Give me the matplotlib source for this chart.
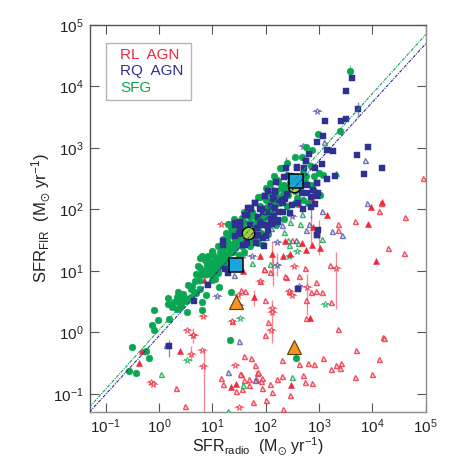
import numpy as np
import matplotlib
matplotlib.use("Agg")
import matplotlib.pyplot as plt
from matplotlib.patches import Rectangle

plt.rcParams["font.family"] = ["Liberation Sans", "DejaVu Sans"]
plt.rcParams["mathtext.fontset"] = "custom"
plt.rcParams["mathtext.rm"] = "Liberation Sans"
plt.rcParams["mathtext.it"] = "Liberation Sans"
plt.rcParams["mathtext.fallback"] = "stixsans"

# all values are log10(SFR_radio), log10(SFR_FIR)
rl_open_tri = np.array([
    [3.669, 1.814], [3.363, 1.765], [3.35, 1.657], [4.30, 1.375], [4.588, 1.289], [3.213, 1.089],
    [1.969, 1.035], [2.375, 0.905], [2.625, 0.91], [2.944, 0.824], [1.894, 0.834], [2.75, 0.526],
    [1.988, 0.531], [3.225, 0.488], [2.944, 0.667], [2.85, 0.65], [3.363, 0.055], [1.994, -0.048],
    [4.2, -0.08], [4.225, -0.09], [3.694, -0.28], [1.588, -0.389], [1.719, -0.416], [2.30, -0.454],
    [3.08, -0.41], [4.12, -0.44], [2.62, -0.513], [2.794, -0.502], [2.9, -0.513], [1.80, -0.524],
    [3.225, -0.60], [3.325, -0.53], [3.419, -0.497], [3.40, -0.583], [3.675, -0.73], [3.988, -0.675],
    [2.313, -0.708], [2.206, -0.762], [2.706, -0.70], [2.088, -0.843], [2.738, -0.81], [2.869, -0.827],
    [1.925, -0.903], [2.119, -0.968], [2.463, -1.027], [2.013, -1.098], [1.763, -1.13], [2.331, -1.244],
    [1.844, -0.66], [1.694, -0.767], [1.55, -0.92], [1.925, -0.74], [1.813, -0.767], [1.538, -0.67],
    [4.944, 2.505], [4.163, 2.099], [4.119, 1.98], [4.613, 1.877],
    [0.325, -0.908], [0.488, -1.20], [1.163, -0.74], [1.206, -0.838], [1.438, -0.962], [1.525, -0.67],
    [1.375, 0.18], [1.85, -0.649], [1.587, -0.773], [1.906, -0.784], [1.681, -0.86], [2.037, 0.174],
    [1.968, 1.03], [2.081, 0.975], [2.362, 0.91], [2.443, 0.677], [1.531, 0.693], [1.612, 0.667],
    [2.756, 0.234], [3.05, 0.66], [2.74, 1.05], [2.5, 1.5],
])
rl_star = np.array([
    [0.519, 0.044], [0.644, -0.048], [0.594, -0.351], [-0.156, -0.805], [-0.106, -0.838], [0.831, 0.26],
    [-0.306, -0.313], [0.8, -0.291], [0.831, -0.54], [1.163, 1.765], [1.506, -1.212], [1.431, -0.524],
    [0.631, -0.048], [1.375, 0.179], [2.118, 0.331], [2.1, 0.044], [1.487, 0.612], [3.313, 1.04],
    [2.525, 1.078], [2.444, 0.677], [2.5, 0.612], [2.769, 0.73], [2.125, 0.4], [1.9, 0.83],
])
rl_filled = np.array([
    [-0.369, -0.497], [0.4, -0.307], [-0.31, -0.31], [1.437, -0.833], [1.356, -0.887], [2.481, -0.86],
    [1.581, 0.991], [1.893, 1.235], [2.112, 1.273], [2.331, 1.246], [1.787, 0.575], [2.363, 1.478],
    [2.688, 1.451], [2.875, 1.419], [2.75, 1.332], [3.019, 1.37], [2.463, 1.273], [3.919, 1.765],
    [4.063, 1.159], [2.837, 0.234], [2.88, 1.72], [2.863, 2.164], [3.15, 1.904], [3.981, 2.045],
    [4.181, 2.126], [2.619, 2.088], [0.85, 0.85],
])
rq_square = np.array([
    [3.625, 4.139], [3.5, 3.934], [3.731, 3.636], [3.106, 3.441], [3.406, 3.441], [3.506, 3.463],
    [3.075, 3.198], [2.969, 3.1], [3.919, 3.008], [3.713, 2.889], [3.256, 2.943], [3.156, 2.965],
    [2.806, 2.895], [2.75, 2.792], [3.063, 2.732], [4.181, 2.673], [3.85, 2.581], [3.306, 2.543],
    [3.144, 2.5], [2.963, 2.435], [2.388, 2.667], [2.581, 2.667], [2.338, 2.532], [2.719, 2.667],
    [2.175, 2.289], [1.988, 2.224], [1.806, 2.099], [1.719, 2.007], [1.894, 2.002], [1.644, 1.91],
    [2.769, 2.397], [2.769, 2.262], [2.969, 2.218], [2.919, 2.088], [2.85, 2.045], [2.456, 1.948],
    [2.331, 2.099], [2.144, 2.17], [2.256, 1.953], [2.113, 1.829], [2.175, 2.306], [1.987, 2.225],
    [2.144, 2.182], [1.8, 2.111], [1.925, 2.0], [1.643, 1.911], [1.706, 2.02], [1.862, 1.884],
    [2.019, 1.965], [2.175, 2.02], [2.331, 1.965], [2.237, 1.83], [2.487, 2.073], [2.675, 2.263],
    [2.362, 2.165], [1.956, 1.749], [2.05, 1.668], [1.519, 1.695], [1.425, 1.56], [1.644, 1.451],
    [1.581, 1.424], [1.8, 1.56], [2.987, 1.657], [2.969, 1.586], [1.956, 1.532], [1.206, 1.478],
    [1.206, 1.424], [1.237, 1.03], [1.3, 0.964], [1.425, 1.776], [1.518, 1.787], [1.612, 1.424],
    [1.818, 1.451], [1.968, 1.408], [2.112, 1.765], [1.85, 1.587], [2.006, 1.56], [2.237, 1.803],
    [1.831, 1.695], [0.656, 0.504], [0.925, 0.775], [0.188, -0.226], [2.963, 1.587], [2.613, 0.71],
    [1.675, 2.018], [1.613, 1.91], [1.425, 1.747], [1.519, 1.775], [2.925, 2.669], [2.581, 2.685],
    [2.756, 2.788], [2.894, 2.317], [2.987, 2.263], [2.956, 2.436],
    [1.5, 1.6], [1.7, 1.75], [1.95, 1.95], [2.1, 2.05], [2.25, 2.15], [2.4, 2.25], [2.55, 2.35],
    [2.65, 2.5], [2.45, 2.55], [2.2, 2.45], [2.05, 2.3], [2.6, 2.1], [2.7, 2.0], [2.85, 2.2],
    [2.5, 2.45], [1.9, 1.8], [2.1, 1.85], [1.75, 1.65], [2.0, 1.75], [2.15, 1.9],
])
rq_open = np.array([
    [3.094, 3.1], [3.856, 2.797], [3.9, 2.11], [3.05, 1.98], [1.494, -0.14], [1.3, -0.643],
    [1.806, -0.779], [0.131, -0.2], [2.75, 1.657], [2.569, 1.505], [3.238, 1.651], [3.431, 1.576],
    [2.806, 1.765], [1.406, 0.926], [2.1, 1.7], [2.3, 1.75], [2.0, 1.55],
])
rq_star = np.array([
    [2.969, 3.598], [2.706, 3.024], [2.081, 2.37], [1.081, 0.591], [1.581, 1.262], [1.737, 1.235],
    [2.218, 1.462], [2.218, 1.1], [2.631, 0.748], [2.5, 1.9], [1.5, 0.45],
])
sfg_circle = np.array([
    [3.581, 4.258], [2.988, 3.23], [3.388, 3.279], [3.08, 2.559], [2.3, 2.667], [2.75, 3.019],
    [2.675, 2.846], [3.019, 2.234], [2.206, 2.478], [2.863, 2.965], [2.269, 2.669], [2.237, 2.452],
    [2.081, 2.425], [2.394, 2.56], [2.425, 2.236], [2.3, 2.128], [2.019, 2.046], [2.081, 1.911],
    [1.831, 1.803], [1.706, 1.776], [1.55, 1.857], [1.456, 1.722], [1.394, 1.613], [1.862, 1.641],
    [2.644, 2.479], [2.737, 2.452], [2.8, 2.1], [1.894, 2.209], [2.237, 2.209], [2.581, 2.182],
    [1.519, 1.505], [1.956, 1.424], [1.3, 1.764], [0.769, 1.208], [0.894, 1.208], [1.019, 1.26],
    [1.112, 1.19], [0.956, 1.127], [0.769, 1.045], [0.881, 1.018], [0.987, 0.937], [1.112, 0.964],
    [1.206, 1.1], [1.319, 1.18], [1.237, 1.26], [1.362, 1.397], [1.456, 1.532], [1.331, 1.587],
    [1.268, 1.505], [1.362, 1.64], [1.319, 1.765], [1.456, 1.668], [1.643, 1.451], [1.768, 1.505],
    [1.862, 1.56], [1.8, 1.722], [0.675, 0.829], [0.612, 0.748], [1.125, 0.737], [1.35, 0.661],
    [0.8, 0.488], [0.8, 0.369], [-0.562, -0.632], [-0.425, -0.659], [-0.512, -0.243], [-0.244, -0.307],
    [-0.181, -0.421], [-0.087, 0.364], [-0.137, 0.125], [-0.093, 0.044], [-0.02, 0.207], [0.188, 0.217],
    [0.169, 0.558], [0.175, 0.461], [0.356, 0.661], [0.331, 0.38], [0.394, 0.412], [0.344, 0.575],
    [0.488, 0.558], [0.531, 0.326], [0.55, 0.775], [0.769, 0.704], [0.875, 0.612], [0.425, 0.531],
    [0.507, 0.504], [0.394, 0.477], [0.694, 0.64], [0.8, 1.246], [0.925, 1.246], [1.081, 1.208],
    [0.738, 1.072], [0.863, 1.18], [1.019, 1.018], [1.331, -0.129], [2.575, -0.42], [1.2, 1.35],
    [1.55, 1.62], [1.65, 1.58], [1.95, 1.9], [2.1, 2.12], [1.75, 1.95], [1.45, 1.45],
    [0.7, 0.95], [0.75, 0.85], [0.83, 0.95], [0.9, 1.1], [0.95, 1.02], [1.0, 1.12], [1.05, 1.08],
    [1.1, 1.05], [1.15, 1.15], [1.17, 1.27], [1.22, 1.2], [1.27, 1.12], [1.3, 1.28], [1.33, 1.35],
    [1.38, 1.3], [1.25, 1.4], [1.3, 1.45], [1.4, 1.45], [1.42, 1.38], [1.47, 1.6], [1.5, 1.52],
    [1.55, 1.5], [1.58, 1.7], [1.6, 1.62], [1.65, 1.68], [1.68, 1.52], [1.72, 1.6], [1.75, 1.7],
    [1.78, 1.62], [1.82, 1.8], [1.85, 1.72], [1.9, 1.78], [1.92, 1.62], [1.95, 1.85], [2.0, 1.75],
    [2.02, 1.88], [2.05, 1.98], [2.1, 1.85], [2.12, 2.02], [2.15, 1.95], [2.18, 2.1], [2.2, 2.3],
    [2.25, 2.1], [2.28, 2.35], [2.32, 2.25], [2.35, 2.4], [2.4, 2.3], [2.45, 2.45], [2.5, 2.35],
    [2.5, 2.55], [2.55, 2.3], [2.6, 2.5], [2.65, 2.35], [2.7, 2.6], [2.75, 2.55], [2.85, 2.7],
    [2.1, 2.25], [2.0, 2.15], [1.9, 2.05], [1.8, 1.9], [1.7, 1.88], [1.6, 1.8], [1.5, 1.72],
    [1.4, 1.55], [1.35, 1.7], [1.15, 1.3], [1.05, 1.18], [0.95, 1.15], [0.9, 0.95], [1.05, 0.87],
    [0.78, 0.95], [1.0, 0.85], [0.65, 0.65], [0.6, 0.58], [0.45, 0.62], [0.28, 0.5], [0.25, 0.42],
    [0.42, 0.45], [0.6, 0.7], [1.5, 1.25], [1.6, 1.3], [1.7, 1.4], [1.85, 1.45], [2.05, 1.6],
    [2.2, 1.75], [2.35, 1.85], [2.55, 2.1], [2.7, 2.15], [2.9, 2.3], [2.4, 2.05], [1.55, 1.4],
    [1.1, 1.4], [1.0, 1.32], [1.2, 1.52], [1.25, 1.62], [1.4, 1.85], [1.6, 1.95], [1.85, 2.2],
    [2.0, 2.35], [2.15, 2.55], [2.4, 2.75], [2.55, 2.85], [2.9, 2.55], [2.85, 2.4], [3.0, 2.6],
])
sfg_open = np.array([
    [3.319, 2.597], [2.675, 1.931], [2.5, -0.73], [1.581, -0.85], [1.287, -1.28], [0.044, -0.68],
    [2.081, 1.11], [1.737, 1.127], [3.05, 1.516], [2.425, 1.505], [2.438, 1.413], [2.6, 1.451],
    [2.344, 1.64], [2.644, 1.765], [2.456, 1.803],
])
sfg_star = np.array([[1.512, 0.228], [0.525, -0.448], [2.594, 1.316], [2.444, 1.246], [3.113, 0.461]])

# x, low, high of the vertical error bars
rl_err = np.array([
    [3.313, 0.38, 1.305], [2.769, 0.288, 0.953], [2.125, -0.17, 0.531], [2.144, 0.748, 1.289],
    [3.006, 1.26, 1.83], [1.788, 0.423, 0.694], [0.844, -1.29, -0.28], [0.644, -0.17, 0.07],
    [0.594, -0.47, -0.226], [2.112, 0.937, 1.478], [2.206, 0.91, 1.289], [2.85, 1.4, 1.9],
])
rq_err = np.array([[0.188, -0.4, -0.12], [3.731, 3.5, 3.75], [2.388, 2.478, 2.857], [2.85, 1.86, 2.045]])
sfg_err = np.array([[3.581, 4.18, 4.345]])

# group means
big_square = np.array([[2.569, 2.46], [1.45, 1.1]])
big_circle = np.array([[2.525, 2.38], [1.669, 1.624]])
big_triangle = np.array([[1.444, 0.5], [2.53, -0.24]])

# fits: slope, intercept in log space
sfg_fit = (0.962, 0.035)
rq_fit = (0.951, -0.06)
fit_x = np.array([0.05, 1e5])

ticks = [1e-1, 1e0, 1e1, 1e2, 1e3, 1e4, 1e5]
tick_labels = [r"$10^{-1}$", r"$10^{0}$", r"$10^{1}$", r"$10^{2}$", r"$10^{3}$", r"$10^{4}$", r"$10^{5}$"]

RED = "#ee2a3c"
BLUE = "#2e3192"
GREEN = "#0aa651"
ORANGE = "#f7941d"


def scatter(ax, arr, marker, color, size, face=None, lw=0.8, alpha=1.0, z=3):
    ax.plot(10 ** arr[:, 0], 10 ** arr[:, 1], ls="none", marker=marker, ms=size,
            mfc=color if face is None else face, mec=color, mew=lw, alpha=alpha, zorder=z)


def errs(ax, arr, color, z=2):
    ax.vlines(10 ** arr[:, 0], 10 ** arr[:, 1], 10 ** arr[:, 2], color=color, lw=1.0, alpha=0.55, zorder=z)


fig = plt.figure(figsize=(4.58, 4.58), dpi=100)
ax = fig.add_axes([89.5 / 458, 1 - 412.3 / 458, 336.2 / 458, 387.3 / 458])
ax.set_xscale("log")
ax.set_yscale("log")
ax.set_xlim(0.05, 1e5)
ax.set_ylim(0.05, 1e5)

errs(ax, rl_err, RED)
errs(ax, rq_err, BLUE)
errs(ax, sfg_err, GREEN)

# open symbols first, they sit under the filled cloud
scatter(ax, rl_open_tri, "^", RED, 3.6, face="#fbd5d9", lw=1.0, alpha=0.8)
scatter(ax, rl_star, "_", RED, 7, lw=0.8, alpha=0.5)
scatter(ax, rl_star, "*", RED, 4.5, face="white", alpha=0.75)
scatter(ax, rq_open, "^", BLUE, 3.6, face="#e0e0f2", lw=1.0, alpha=0.65)
scatter(ax, rq_star, "_", BLUE, 7, lw=0.8, alpha=0.45)
scatter(ax, rq_star, "*", BLUE, 4.5, face="white", alpha=0.65)
scatter(ax, sfg_open, "^", GREEN, 3.6, face="#d8f2e2", lw=1.0, alpha=0.8)
scatter(ax, sfg_star, "_", GREEN, 7, lw=0.8, alpha=0.5)
scatter(ax, sfg_star, "*", GREEN, 4.5, face="white", alpha=0.75)
scatter(ax, rl_filled, "^", RED, 3.8, lw=0.4, z=4)
scatter(ax, sfg_circle, "o", GREEN, 4.9, lw=0.3, z=5)
scatter(ax, rq_square, "s", BLUE, 4.3, lw=0.3, z=6)

scatter(ax, big_circle, "o", "black", 9, face="#a6ce39", lw=1.0, z=8)
scatter(ax, big_square, "s", "black", 9.5, face="#1ca4e0", lw=1.1, z=9)
scatter(ax, big_triangle, "^", "#5a3a10", 10, face=ORANGE, lw=0.8, z=9)

# fits run over the big symbols
for fit, col in [(sfg_fit, GREEN), (rq_fit, BLUE)]:
    ax.plot(fit_x, 10 ** (fit[0] * np.log10(fit_x) + fit[1]), color=col, lw=0.8,
            ls=(0, (3, 1, 1, 1)), zorder=10)

ax.set_xticks(ticks)
ax.set_xticklabels(tick_labels)
ax.set_yticks(ticks)
ax.set_yticklabels(tick_labels)
ax.minorticks_off()
ax.tick_params(which="major", direction="in", length=6.5, width=0.8, color="#555555",
               top=True, right=True, labelsize=11, pad=4, labelcolor="#222222")
for side, spine in ax.spines.items():
    spine.set_color("#555555" if side in ("top", "left") else "#8c8c8c")
    spine.set_linewidth(1.0)

ax.set_xlabel(r"SFR$_{\mathrm{radio}}$  (M$_{\odot}$ yr$^{-1}$)", fontsize=11.5, labelpad=-1, color="#222222")
ax.set_ylabel(r"SFR$_{\mathrm{FIR}}$  (M$_{\odot}$ yr$^{-1}$)", fontsize=12, labelpad=0, color="#222222")

# legend box with coloured labels only
ax.add_patch(Rectangle((0.048, 0.8065), 0.254, 0.147, transform=ax.transAxes, fill=False,
                       ec="#b5b5b5", lw=1.0, zorder=10))
for label, col, yy in [("RL  AGN", RED, 0.923), ("RQ  AGN", BLUE, 0.881), ("SFG", GREEN, 0.838)]:
    ax.text(0.092, yy, label, color=col, fontsize=11, transform=ax.transAxes, va="center", zorder=10)

fig.savefig("out.png", dpi=100)
